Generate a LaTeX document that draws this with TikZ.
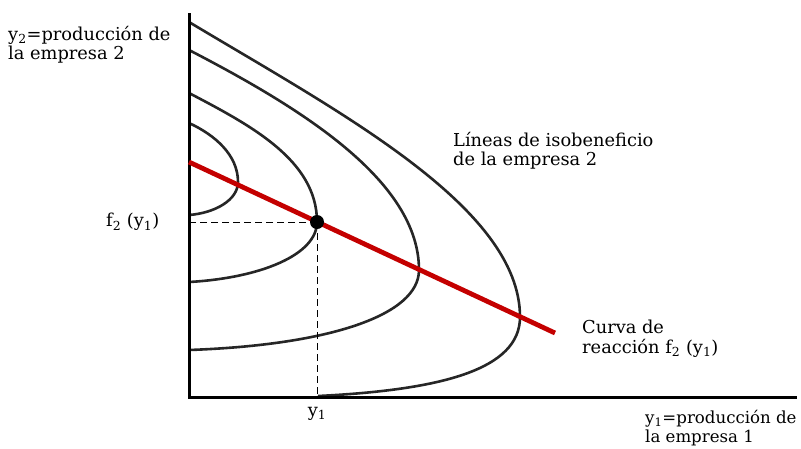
\documentclass[tikz,border=0pt]{standalone}
\usepackage{fontspec}
\setmainfont{DejaVu Serif}
\definecolor{curvegray}{RGB}{38,38,38}
\definecolor{reactred}{RGB}{196,0,0}
\begin{document}
\begin{tikzpicture}[x=1pt,y=-1pt,
  axisline/.style={line width=3pt, black},
  isocurve/.style={line width=2.6pt, curvegray},
  reactline/.style={line width=4.8pt, reactred},
  guide/.style={line width=0.8pt, black, dash pattern=on 7pt off 4pt},
  eqdot/.style={circle, fill=black, inner sep=0pt, minimum size=14pt},
  lbl/.style={inner sep=0pt, align=left, font=\fontsize{17.8}{19.5}\selectfont}]
\useasboundingbox (0,0) rectangle (801,448);
% axes
\coordinate (ytop) at (189,13);
\coordinate (O) at (189,397);
\coordinate (xend) at (797,397);
% isoprofit curves
\draw[isocurve] (189,123) .. controls (215,135) and (238,155) .. (238,182)
                          .. controls (238,200) and (215,213) .. (189,215);
\draw[isocurve] (189,93) .. controls (250,125) and (317,160) .. (317,222)
                         .. controls (317,255) and (260,278) .. (189,282);
\draw[isocurve] (189,50) .. controls (299,107) and (419,180) .. (419,270)
                         .. controls (419,315) and (330,345) .. (189,350);
\draw[isocurve] (189,22) .. controls (339,112) and (520,207) .. (520,317)
                         .. controls (520,370) and (440,390) .. (318,396);
\draw[axisline] (ytop) -- (O) -- (xend);
% reaction curve
\coordinate (r1) at (189,162);
\coordinate (r2) at (555,333);
\draw[reactline] (r1) -- (r2);
% equilibrium
\node[eqdot] (E) at (317,222) {};
\draw[guide] (E.center) -- (E.center -| O);
\draw[guide] (E.center) -- (E.center |- O);
% labels
\node[lbl, anchor=north west] (ylab) at (8,26) {y\textsubscript{2}=producción de\\la empresa 2};
\node[lbl, anchor=west] (f2) at (106,222) {f\textsubscript{2} (y\textsubscript{1})};
\node[lbl, anchor=north] (y1) at (317,407) {y\textsubscript{1}};
\node[lbl, anchor=north west] (iso) at (453,132) {Líneas de isobeneficio\\de la empresa 2};
\node[lbl, anchor=north west] (react) at (582,320) {Curva de\\reacción f\textsubscript{2} (y\textsubscript{1})};
\node[lbl, anchor=north west, font=\fontsize{16.6}{19}\selectfont] (xlab) at (645,410) {y\textsubscript{1}=producción de\\la empresa 1};
\end{tikzpicture}
\end{document}
